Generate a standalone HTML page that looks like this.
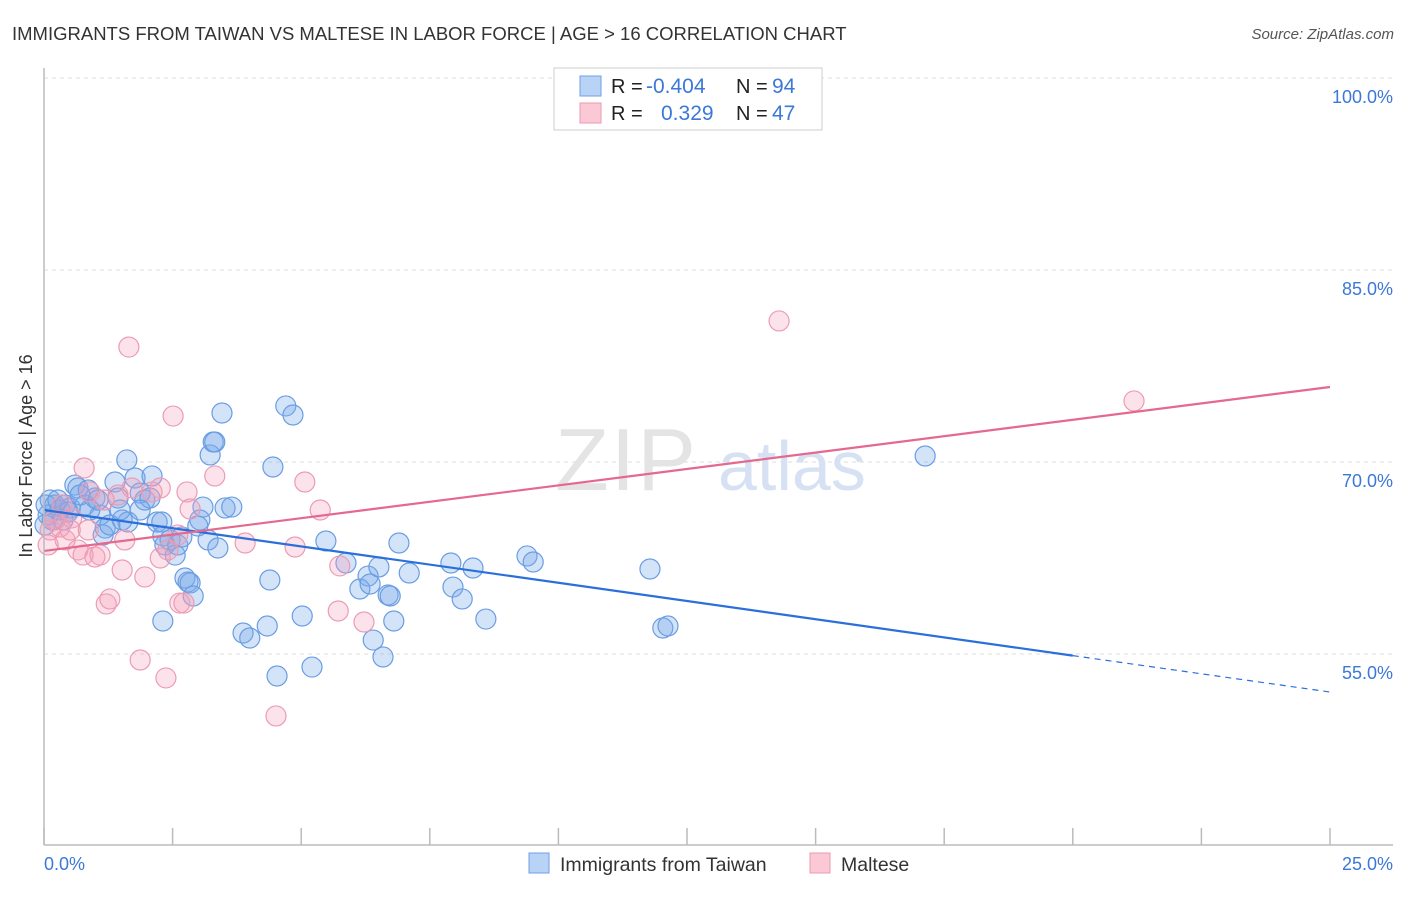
<!DOCTYPE html>
<html><head><meta charset="utf-8"><style>
body{margin:0;background:#fff;font-family:"Liberation Sans",sans-serif;}
svg text{font-family:"Liberation Sans",sans-serif;}
</style></head><body>
<svg id="chart" width="1406" height="892" viewBox="0 0 1406 892">
<text x="12" y="40" font-size="18.5" fill="#333">IMMIGRANTS FROM TAIWAN VS MALTESE IN LABOR FORCE | AGE &gt; 16 CORRELATION CHART</text>
<text x="1394" y="39" font-size="15" fill="#555" font-style="italic" text-anchor="end">Source: ZipAtlas.com</text>
<text x="32" y="456" font-size="18" fill="#333" text-anchor="middle" transform="rotate(-90 32 456)">In Labor Force | Age &gt; 16</text>
<g id="grid"></g>
<g id="watermark">
<text x="555" y="490" font-size="88" fill="#e4e4e4" font-family="Liberation Serif" letter-spacing="2">ZIP</text>
<text x="718" y="490" font-size="70" fill="#d6e2f3">atlas</text>
</g>
<g id="marks"></g>
<line x1="44" y1="68" x2="44" y2="845" stroke="#bbb" stroke-width="1.5"/>
<line x1="44" y1="845" x2="1393" y2="845" stroke="#bbb" stroke-width="1.5"/>
<text x="44" y="870" font-size="18" fill="#3b78d8">0.0%</text>
<text x="1393" y="870" font-size="18" fill="#3b78d8" text-anchor="end">25.0%</text>
<g>
<rect x="554" y="68" width="268" height="62" fill="#fff" stroke="#ccc"/>
<rect x="580" y="76" width="21" height="20" fill="#b8d3f5" stroke="#6e9fe6"/>
<rect x="580" y="103" width="21" height="20" fill="#fbc8d6" stroke="#ec9ab1"/>
<text x="611" y="93" font-size="20" fill="#222">R = </text><text x="646" y="93" font-size="21" fill="#3b78d8">-0.404</text>
<text x="736" y="93" font-size="20" fill="#222">N = </text><text x="772" y="93" font-size="21" fill="#3b78d8">94</text>
<text x="611" y="120" font-size="20" fill="#222">R = </text><text x="661" y="120" font-size="21" fill="#3b78d8">0.329</text>
<text x="736" y="120" font-size="20" fill="#222">N = </text><text x="772" y="120" font-size="21" fill="#3b78d8">47</text>
</g>
<g>
<rect x="529" y="853" width="20" height="20" fill="#b8d3f5" stroke="#6e9fe6"/>
<text x="560" y="871" font-size="19.5" fill="#333">Immigrants from Taiwan</text>
<rect x="810" y="853" width="20" height="20" fill="#fbc8d6" stroke="#ec9ab1"/>
<text x="841" y="871" font-size="19.5" fill="#333">Maltese</text>
</g>
</svg>
<script>
const yTicks=[100,85,70,55];
const yTickLabels=["100.0%","85.0%","70.0%","55.0%"];
const xTicks=[0,2.5,5,7.5,10,12.5,15,17.5,20,22.5,25];
const taiwanX=[.12,.21,.31,.41,.51,.08,.60,.66,.86,.99,.80,1.09,1.19,1.15,1.38,1.44,1.52,1.63,1.61,1.77,1.87,1.96,2.10,2.06,2.20,2.29,2.31,2.35,2.45,2.55,2.60,2.68,2.74,2.80,2.84,2.90,2.31,3.03,2.99,3.09,3.19,3.23,3.29,3.32,3.38,3.46,3.52,3.65,3.87,4.00,4.34,4.39,4.45,4.53,4.70,4.84,5.02,5.21,5.48,5.87,6.14,6.30,6.34,6.40,6.51,6.59,6.69,6.73,6.80,6.90,7.10,7.91,7.95,8.13,8.34,8.59,9.39,9.51,11.78,12.03,12.13,17.13,.04,.16,.27,.37,.47,.02,.70,.89,1.28,1.48,1.05,1.87];
const taiwanY=[67.03,66.64,66.25,66.64,66.41,65.86,68.20,67.97,67.81,67.19,66.64,65.86,64.84,64.30,68.44,67.19,65.47,65.31,70.16,68.75,67.58,67.03,68.91,67.19,65.31,65.31,64.22,63.52,63.91,62.73,63.52,64.14,60.94,60.63,60.55,59.53,57.58,65.47,65.00,66.48,63.91,70.55,71.56,71.56,63.28,73.83,66.41,66.48,56.64,56.25,57.19,60.78,69.61,53.28,74.38,73.67,57.97,53.98,63.83,62.11,60.08,61.09,60.47,56.09,61.80,54.77,59.61,59.53,57.58,63.67,61.33,62.11,60.23,59.30,61.72,57.73,62.66,62.19,61.64,57.03,57.19,70.47,66.64,65.47,67.03,65.47,66.09,65.08,67.42,66.25,65.08,66.25,67.03,66.25];
const malteseX=[1.65,2.51,.78,3.32,2.78,2.84,5.07,5.37,.89,1.44,1.71,2.26,2.10,3.91,4.88,5.75,5.72,6.22,1.21,1.28,1.52,1.96,1.87,2.37,2.64,2.72,2.26,2.41,2.60,4.51,14.29,21.19,.12,.21,.31,.41,.54,.66,.76,.99,1.09,.08,.35,.51,.86,1.57,1.17];
const malteseY=[78.98,73.59,69.53,68.91,67.66,66.33,68.44,66.25,67.66,67.42,67.97,67.97,67.66,63.67,63.36,61.88,58.36,57.50,58.91,59.30,61.56,61.02,54.53,53.13,58.98,58.98,62.50,63.13,64.30,50.16,81.02,74.77,64.69,65.47,64.92,63.91,65.63,63.13,62.73,62.58,62.73,63.52,66.64,64.69,64.69,63.91,67.03];
const taiwanTrend=[66.25,52.03];
const malteseTrend=[63.05,75.86];
const taiwanSolidEnd=20;

const NS="http://www.w3.org/2000/svg";
const sx=v=>44+v/25*1286;
const sy=v=>78+(100-v)/15*192;
function mk(tag,attrs,parent){const e=document.createElementNS(NS,tag);for(const k in attrs)e.setAttribute(k,attrs[k]);parent.appendChild(e);return e;}
const grid=document.getElementById('grid'),marks=document.getElementById('marks');
yTicks.forEach((t,i)=>{
 const l=mk('line',{x1:44,x2:1393,y1:sy(t),y2:sy(t),stroke:'#ddd','stroke-dasharray':'4 4'},grid);
 
 
 const tx=mk('text',{x:1393,y:sy(t)+25,'font-size':18,fill:'#3b78d8','text-anchor':'end'},grid);
 tx.textContent=yTickLabels[i];
 
 
});
xTicks.forEach(t=>{
 const l=mk('line',{x1:sx(t),x2:sx(t),y1:828,y2:845,stroke:'#bbb','stroke-width':1.5},grid);
 
 
});
taiwanX.forEach((x,i)=>{
 const c=mk('circle',{cx:sx(x),cy:sy(taiwanY[i]),r:10,fill:'rgba(120,170,235,0.33)',stroke:'#6a9de3','stroke-width':1.2},marks);
 
 
});
malteseX.forEach((x,i)=>{
 const c=mk('circle',{cx:sx(x),cy:sy(malteseY[i]),r:10,fill:'rgba(245,160,185,0.3)',stroke:'#eb9cb3','stroke-width':1.2},marks);
 
 
});
const tyAt=x=>taiwanTrend[0]+(taiwanTrend[1]-taiwanTrend[0])*x/25;
const t1=mk('line',{x1:sx(0),y1:sy(taiwanTrend[0]),x2:sx(taiwanSolidEnd),y2:sy(tyAt(taiwanSolidEnd)),stroke:'#2a6fdb','stroke-width':2.2},marks);


const t2=mk('line',{x1:sx(taiwanSolidEnd),y1:sy(tyAt(taiwanSolidEnd)),x2:sx(25),y2:sy(taiwanTrend[1]),stroke:'#2a6fdb','stroke-width':1.2,'stroke-dasharray':'6 5'},marks);


const t3=mk('line',{x1:sx(0),y1:sy(malteseTrend[0]),x2:sx(25),y2:sy(malteseTrend[1]),stroke:'#e5688f','stroke-width':2.2},marks);


</script>
</body></html>
